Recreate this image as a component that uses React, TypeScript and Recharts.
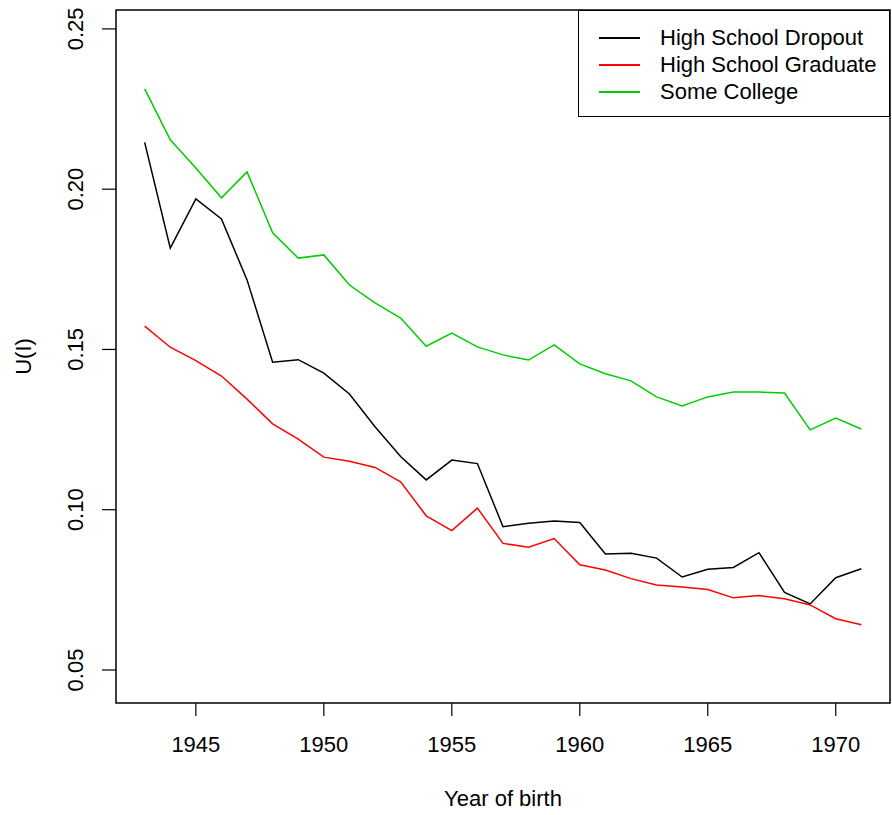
import { Line, LineChart, ReferenceArea, XAxis, YAxis } from "recharts";

const years = [
  1943, 1944, 1945, 1946, 1947, 1948, 1949, 1950, 1951, 1952, 1953, 1954, 1955, 1956, 1957,
  1958, 1959, 1960, 1961, 1962, 1963, 1964, 1965, 1966, 1967, 1968, 1969, 1970, 1971,
];

const dropout = [
  0.2146, 0.1816, 0.197, 0.1907, 0.1717, 0.146, 0.1468, 0.1426, 0.1361, 0.1259, 0.1166, 0.1093,
  0.1155, 0.1144, 0.0947, 0.0958, 0.0965, 0.096, 0.0862, 0.0864, 0.0849, 0.079, 0.0814, 0.082,
  0.0866, 0.0742, 0.0706, 0.0788, 0.0816,
];

const graduate = [
  0.1573, 0.1507, 0.1465, 0.1417, 0.1345, 0.1268, 0.122, 0.1164, 0.1151, 0.1132, 0.1087, 0.0981,
  0.0935, 0.1005, 0.0895, 0.0883, 0.091, 0.0828, 0.0812, 0.0785, 0.0765, 0.0759, 0.0751, 0.0725,
  0.0732, 0.0722, 0.0703, 0.066, 0.0641,
];

const college = [
  0.2313, 0.2154, 0.2066, 0.1973, 0.2054, 0.1864, 0.1785, 0.1795, 0.1701, 0.1645, 0.1598, 0.151,
  0.1551, 0.1508, 0.1483, 0.1467, 0.1514, 0.1455, 0.1424, 0.1402, 0.1352, 0.1324, 0.1352, 0.1367,
  0.1367, 0.1364, 0.1249, 0.1286, 0.1252,
];

const seriesNames = ["High School Dropout", "High School Graduate", "Some College"];
const seriesKeys = ["dropout", "graduate", "college"];
const seriesColors = ["#000000", "#FF0000", "#00CD00"];

const xTicks = [1945, 1950, 1955, 1960, 1965, 1970];
const yTicks = [0.05, 0.1, 0.15, 0.2, 0.25];
const xDomain = [1941.88, 1972.12];
const yDomain = [0.0397, 0.2559];

const data = years.map((year, i) => ({
  year,
  dropout: dropout[i],
  graduate: graduate[i],
  college: college[i],
}));

const FONT = "'Liberation Sans', Arial, Helvetica, sans-serif";

function YTick(props: any) {
  const { x, y, payload } = props;
  return (
    <text
      transform={`translate(${x - 19},${y}) rotate(-90)`}
      textAnchor="middle"
      fontSize={22}
      fill="#000"
      fontFamily={FONT}
    >
      {payload.value.toFixed(2)}
    </text>
  );
}

// legend box drawn over the plot, top-right like R's legend("topright")
function LegendBox() {
  return (
    <div
      style={{
        position: "absolute",
        left: 578,
        top: 10,
        border: "1px solid #000",
        boxSizing: "border-box",
        width: 312,
        height: 107,
        paddingTop: 13,
        paddingLeft: 20,
        background: "#fff",
        fontFamily: FONT,
        fontSize: 22,
      }}
    >
      {seriesNames.map((name, i) => (
        <div key={name} style={{ display: "flex", alignItems: "center", height: 27 }}>
          <span style={{ display: "inline-block", width: 41, height: 2, background: seriesColors[i] }} />
          <span style={{ marginLeft: 20, color: "#000", lineHeight: "27px" }}>{name}</span>
        </div>
      ))}
    </div>
  );
}

export default function App() {
  return (
    <div style={{ position: "absolute", left: 0, top: 0, width: 892, height: 815, background: "#fff", fontFamily: FONT }}>
      <LineChart width={892} height={815} data={data} margin={{ top: 10, right: 2, bottom: 0, left: 0 }}>
        <XAxis
          dataKey="year"
          type="number"
          domain={xDomain}
          allowDataOverflow
          ticks={xTicks}
          height={112}
          tickSize={13}
          tickMargin={20}
          axisLine={false}
          tickLine={{ stroke: "#000", strokeWidth: 1.2 }}
          tick={{ fontSize: 22, fill: "#000", fontFamily: FONT }}
          label={{
            content: (p: any) => (
              <text
                x={p.viewBox.x + p.viewBox.width / 2}
                y={806}
                textAnchor="middle"
                fontSize={22}
                fill="#000"
                fontFamily={FONT}
              >
                Year of birth
              </text>
            ),
          }}
        />
        <YAxis
          type="number"
          domain={yDomain}
          allowDataOverflow
          ticks={yTicks}
          width={116}
          tickSize={14}
          tickMargin={0}
          axisLine={false}
          tickLine={{ stroke: "#000", strokeWidth: 1.2 }}
          tick={<YTick />}
          label={{
            content: (p: any) => (
              <text
                transform={`translate(31,${p.viewBox.y + p.viewBox.height / 2}) rotate(-90)`}
                textAnchor="middle"
                fontSize={22}
                fill="#000"
                fontFamily={FONT}
              >
                U(I)
              </text>
            ),
          }}
        />
        <ReferenceArea
          x1={xDomain[0]}
          x2={xDomain[1]}
          y1={yDomain[0]}
          y2={yDomain[1]}
          fill="none"
          stroke="#000"
          strokeWidth={1.5}
          ifOverflow="visible"
        />
        {seriesKeys.map((key, i) => (
          <Line
            key={key}
            type="linear"
            dataKey={key}
            name={seriesNames[i]}
            stroke={seriesColors[i]}
            strokeWidth={1.5}
            dot={false}
            isAnimationActive={false}
          />
        ))}
      </LineChart>
      <LegendBox />
    </div>
  );
}
